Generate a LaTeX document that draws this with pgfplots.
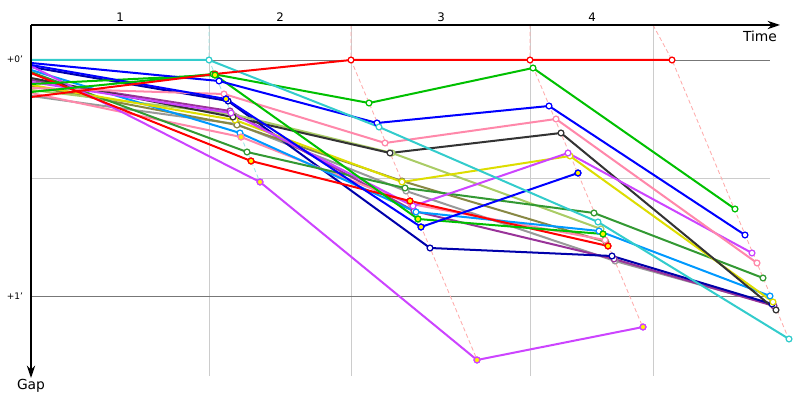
\documentclass[border=0pt]{standalone}
\usepackage{pgfplots}
\pgfplotsset{compat=1.18}
\usepackage{fontspec}
\setmainfont{DejaVu Sans}
\usetikzlibrary{arrows.meta}
\definecolor{cCyan}{HTML}{33CCCC}
\definecolor{cRed}{HTML}{FF0000}
\definecolor{cGreen}{HTML}{00C000}
\definecolor{cBlue}{HTML}{0000FF}
\definecolor{cNavy}{HTML}{0000AA}
\definecolor{cPink}{HTML}{FF88AA}
\definecolor{cMag}{HTML}{CC44FF}
\definecolor{cPurple}{HTML}{993399}
\definecolor{cBlack}{HTML}{333333}
\definecolor{cGray}{HTML}{999999}
\definecolor{cLGreen}{HTML}{AACC66}
\definecolor{cOlive}{HTML}{888844}
\definecolor{cYellow}{HTML}{DDDD00}
\definecolor{cDGreen}{HTML}{339933}
\definecolor{cLBlue}{HTML}{0099FF}
\definecolor{cDash}{HTML}{FFAAAA}
\definecolor{cGrid}{HTML}{CCCCCC}
\definecolor{cGridD}{HTML}{777777}
\pgfplotsset{
  drv/.style={color=#1, line width=1.45pt, mark=*, mark indices={2,3,4,5}, mark size=2.1pt,
    mark options={fill=white, draw=#1, line width=0.9pt, solid}},
  yel/.style={only marks, mark=*, mark size=2.1pt, mark options={fill=yellow, draw=#1, line width=0.9pt}},
  lap/.style={color=#1, line width=0.6pt, dash pattern=on 3pt off 2pt},
}
\begin{document}
\begin{tikzpicture}
\begin{axis}[scale only axis, width=8in, height=4in, xmin=0, xmax=800, ymin=0, ymax=400,
  y dir=reverse, hide axis, clip=false]
% frame for bounding box
\addplot[draw=none] coordinates {(0,0)(800,400)};
% grid
\addplot[cGrid, line width=0.6pt] coordinates {(209,25)(209,376)};
\addplot[cGrid, line width=0.6pt] coordinates {(351,25)(351,376)};
\addplot[cGrid, line width=0.6pt] coordinates {(530,25)(530,376)};
\addplot[cGrid, line width=0.6pt] coordinates {(653,25)(653,376)};
\addplot[cGrid, line width=0.6pt] coordinates {(31,178)(770,178)};
\addplot[cGridD, line width=0.6pt] coordinates {(31,60)(770,60)};
\addplot[cGridD, line width=0.6pt] coordinates {(31,296)(770,296)};
% lap lines
\addplot[lap=cCyan!50] coordinates {(209,25)(209,60)(262,187)};
\addplot[lap=cDash] coordinates {(351,25)(351,60)(478,362)};
\addplot[lap=cDash] coordinates {(530,25)(530,60)(644,330)};
\addplot[lap=cDash] coordinates {(653,25)(672,60)(790,342)};
% drivers
\addplot[drv=cGray] coordinates {(31,96)(236,124)(406,191)(615,261)(773,305)};
\addplot[drv=cPurple] coordinates {(31,80)(230,111)(414,211)(614,259)(774,306)};
\addplot[drv=cNavy] coordinates {(31,67)(228,101)(430,248)(612,256)(772,304)};
\addplot[drv=cOlive] coordinates {(31,86)(237,125)(402,181)(606,242)};
\addplot[drv=cLGreen] coordinates {(31,90)(232,114)(392,153)(601,229)};
\addplot[drv=cPink] coordinates {(31,93)(241,137)(411,204)(605,240)};
\addplot[drv=cLBlue] coordinates {(31,70)(240,133)(416,212)(599,231)(770,296)};
\addplot[drv=cDGreen] coordinates {(31,72)(247,152)(405,188)(594,213)(763,278)};
\addplot[drv=cYellow] coordinates {(31,85)(235,120)(402,182)(570,156)(773,302)};
\addplot[drv=cBlack] coordinates {(31,78)(233,117)(390,153)(561,133)(776,310)};
\addplot[drv=cMag] coordinates {(31,82)(231,113)(413,206)(568,153)(752,253)};
\addplot[drv=cMag] coordinates {(31,66)(260,182)(477,360)(643,327)};
\addplot[drv=cPink] coordinates {(31,88)(224,94)(385,143)(556,119)(757,263)};
\addplot[drv=cRed] coordinates {(31,73)(251,161)(410,201)(608,246)};
\addplot[drv=cGreen] coordinates {(31,84)(215,75)(418,219)(603,234)};
\addplot[drv=cBlue] coordinates {(31,65)(226,99)(421,227)(578,173)};
\addplot[drv=cBlue] coordinates {(31,63)(219,81)(377,123)(549,106)(745,235)};
\addplot[drv=cGreen] coordinates {(31,92)(213,74)(369,103)(533,68)(735,209)};
\addplot[drv=cCyan] coordinates {(31,60)(209,60)(379,127)(598,222)(789,339)};
\addplot[drv=cRed] coordinates {(31,97)(215,74)(351,60)(530,60)(672,60)};
% yellow-filled markers
\addplot[yel=cMag] coordinates {(260,182)(477,360)(643,327)};
\addplot[yel=cRed] coordinates {(251,161)(410,201)(608,246)};
\addplot[yel=cPink] coordinates {(241,137)};
\addplot[yel=cGreen] coordinates {(215,75)(418,219)(603,234)};
\addplot[yel=cBlue] coordinates {(226,99)(421,227)(578,173)};
% axes
\addplot[black, line width=1pt, -{Stealth[length=9pt,width=6pt]}] coordinates {(31,25)(780,25)};
\addplot[black, line width=1pt, -{Stealth[length=9pt,width=6pt]}] coordinates {(31,25)(31,378)};
% labels
\node[font=\fontsize{8.5}{9}\selectfont] at (axis cs:120,17) {1};
\node[font=\fontsize{8.5}{9}\selectfont] at (axis cs:280,17) {2};
\node[font=\fontsize{8.5}{9}\selectfont] at (axis cs:441,17) {3};
\node[font=\fontsize{8.5}{9}\selectfont] at (axis cs:592,17) {4};
\node[font=\fontsize{6.5}{7}\selectfont] at (axis cs:15,59) {+0'};
\node[font=\fontsize{6.5}{7}\selectfont] at (axis cs:15,296) {+1'};
\node[font=\fontsize{10}{11}\selectfont] at (axis cs:760,36) {Time};
\node[font=\fontsize{10}{11}\selectfont] at (axis cs:31,386) {Gap};
\end{axis}
\end{tikzpicture}
\end{document}
